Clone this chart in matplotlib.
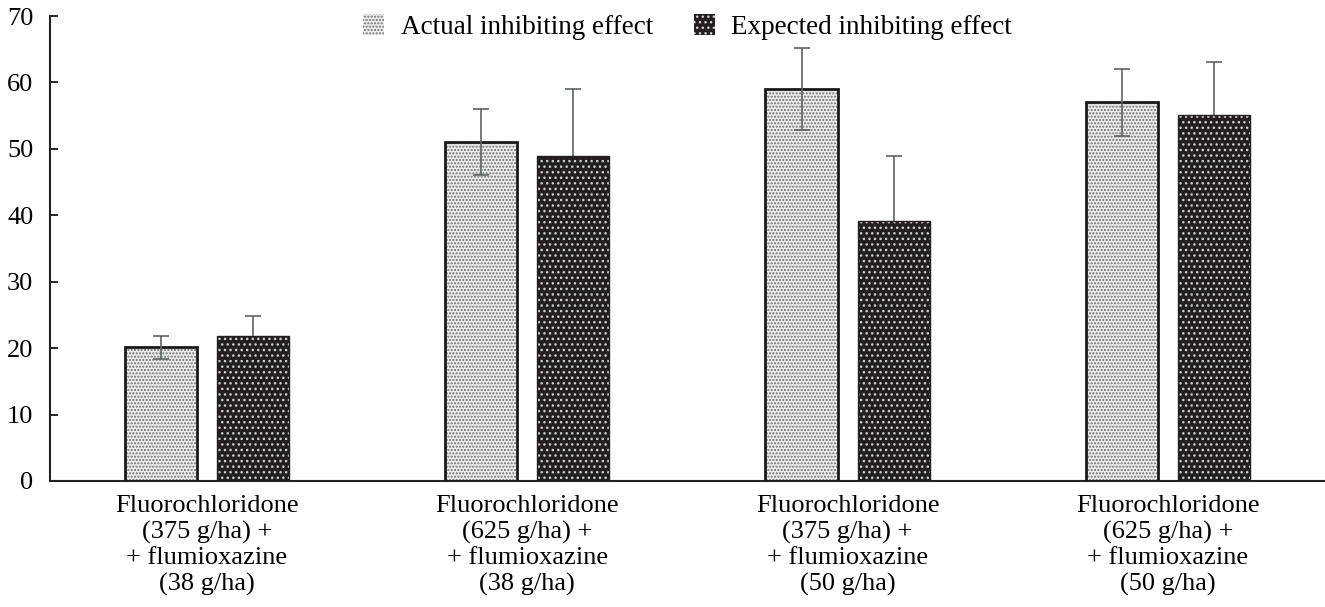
import matplotlib
matplotlib.use("Agg")
import matplotlib.pyplot as plt
import numpy as np
from matplotlib.patches import Patch

plt.rcParams['font.family'] = ['Liberation Serif', 'DejaVu Serif']
plt.rcParams['hatch.linewidth'] = 1.0

categories = [
    "Fluorochloridone\n(375 g/ha) +\n+ flumioxazine\n(38 g/ha)",
    "Fluorochloridone\n(625 g/ha) +\n+ flumioxazine\n(38 g/ha)",
    "Fluorochloridone\n(375 g/ha) +\n+ flumioxazine\n(50 g/ha)",
    "Fluorochloridone\n(625 g/ha) +\n+ flumioxazine\n(50 g/ha)",
]
actual = [20.1, 51.0, 59.0, 57.0]
actual_err = [1.7, 5.0, 6.2, 5.0]
expected = [21.8, 49.0, 39.2, 55.1]
expected_err = [3.1, 10.0, 9.8, 8.0]
series_names = ["Actual inhibiting effect", "Expected inhibiting effect"]
yticks = [0, 10, 20, 30, 40, 50, 60, 70]

fig = plt.figure(figsize=(13.25, 6.07), dpi=100)
ax = fig.add_axes([0.0377, 0.2076, 0.9623, 0.766])

x = np.arange(len(categories))
w = 0.225
off = 0.144

# actual bars: light fill + dense gray dots, black edge
ax.bar(x - off, actual, w, color='#ececec', edgecolor='#6e6e6e', hatch='.....', linewidth=0, zorder=2)
ax.bar(x - off, actual, w, fill=False, edgecolor='#1a1a1a', linewidth=2.0, zorder=3)
# expected bars: dark fill + white dots
ax.bar(x + off, expected, w, color='#231f20', edgecolor='#d0d0d0', hatch='...', linewidth=0, zorder=2)
ax.bar(x + off, expected, w, fill=False, edgecolor='#231f20', linewidth=1.0, zorder=3)

ax.errorbar(x - off, actual, yerr=actual_err, fmt='none', ecolor='#5a6464',
            elinewidth=1.2, capsize=5.5, capthick=1.2, zorder=4)
ax.errorbar(x + off, expected, yerr=expected_err, fmt='none', ecolor='#5a6464',
            elinewidth=1.2, capsize=5.5, capthick=1.2, zorder=1.5)

ax.set_xlim(-0.49, 3.49)
ax.set_ylim(0, 70)
ax.set_yticks(yticks)
ax.set_xticks(x)
ax.set_xticklabels(categories, linespacing=1.21)
ax.tick_params(axis='y', direction='in', length=6, width=1.2, labelsize=19, pad=12)
ax.tick_params(axis='x', length=0, labelsize=19, pad=10)
for s in ['top', 'right']:
    ax.spines[s].set_visible(False)
for s in ['left', 'bottom']:
    ax.spines[s].set_linewidth(1.5)
    ax.spines[s].set_color('#222222')

handles = [
    Patch(facecolor='#ececec', edgecolor='#6e6e6e', hatch='.....', linewidth=0),
    Patch(facecolor='#231f20', edgecolor='#d0d0d0', hatch='...', linewidth=0),
]
ax.legend(handles, series_names, loc='upper center', bbox_to_anchor=(0.5, 1.057),
          ncol=2, frameon=False, fontsize=19.5, handlelength=0.8, handleheight=0.8,
          handletextpad=0.6, columnspacing=1.5)

fig.savefig("out.png", dpi=100)
